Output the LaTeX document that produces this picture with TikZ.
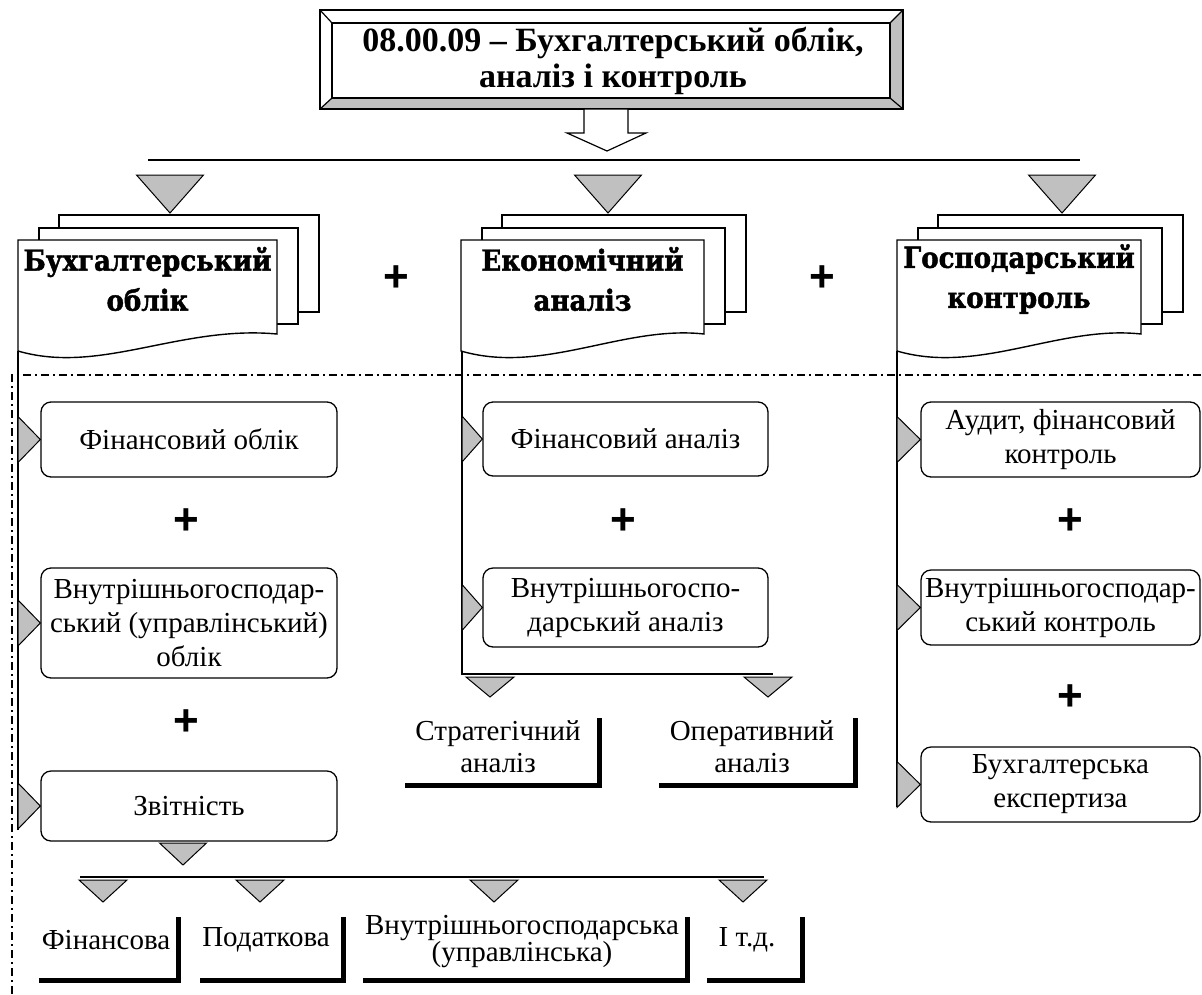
\documentclass[tikz,border=0pt]{standalone}
\usepackage{fontspec}
\setmainfont{Liberation Serif}
\newfontfamily\docfont{DejaVu Serif Condensed Bold}[FakeBold=1.5]
\newfontfamily\plusfont{Liberation Sans Bold}
\usetikzlibrary{calc}
\definecolor{trigray}{RGB}{192,192,192}
\newcommand{\mydocstack}[2]{%
  \draw[docline] (#1+41,215) rectangle (#1+#2+42,312);
  \draw[docline] (#1+21,228) rectangle (#1+#2+21,324);
  \draw[docline] (#1,240) -- (#1+#2,240) -- (#1+#2,334) .. controls (#1+162,325) and (#1+82,375) .. (#1,351) -- cycle;
}
\newcommand{\rtri}[2]{\draw[tri] (#1.west) -- ($(#1.west -| #2)+(0,-23)$) -- ($(#1.west -| #2)+(0,23)$) -- cycle;}
\newcommand{\dtri}[4]{\draw[tri] (#1-#3,#2) -- (#1+#3,#2) -- (#1,#2+#4) -- cycle;}
\begin{document}
\begin{tikzpicture}[x=1pt,y=-1pt,
  tri/.style={draw=black, fill=trigray, line width=1pt, line join=miter},
  docline/.style={draw=black, fill=white, line width=1.4pt},
  rbox/.style={draw, line width=1.3pt, rounded corners=10pt, fill=white, align=center, inner sep=0pt, font=\fontsize{29}{34}\selectfont},
  header/.style={align=center, inner sep=0pt, font=\bfseries\fontsize{34}{36}\selectfont},
  plussign/.style={font=\plusfont\fontsize{44}{44}\selectfont, inner sep=0pt},
  doclabel/.style={font=\docfont\fontsize{29}{40}\selectfont, align=center, inner sep=0pt},
  barlabel/.style={font=\fontsize{29}{32}\selectfont, align=center, inner sep=0pt},
  bar/.style={line width=5pt},
  dashdot/.style={line width=2pt, dash pattern=on 8pt off 4pt on 2pt off 4pt},
  conn/.style={line width=1.3pt}
]
\useasboundingbox (0,0) rectangle (1202,994);
\fill[white] (0,0) rectangle (1202,994);

% header bevel box
\fill[white] (320,10) rectangle (903,109);
\fill[trigray] (320,109) -- (903,109) -- (890,98) -- (332,98) -- cycle;
\fill[trigray] (903,10) -- (903,109) -- (890,98) -- (890,23) -- cycle;
\draw[line width=1.2pt] (332,23) rectangle (890,98);
\draw[line width=1.2pt] (320,10) -- (332,23) (903,10) -- (890,23) (320,109) -- (332,98) (903,109) -- (890,98);
\draw[line width=1.6pt] (320,10) rectangle (903,109);
\node[header] (head) at (613,61) {08.00.09 – Бухгалтерський облік,\\аналіз і контроль};

% hollow arrow
\draw[line width=1.2pt, fill=white, line join=miter] (584,109) -- (628,109) -- (628,133) -- (646,133) -- (607,151) -- (567,133) -- (584,133) -- cycle;
\draw[line width=2pt] (148,160) coordinate (hl) -- (1080,160) coordinate (hr);

% top triangles
\dtri{170}{175}{33.5}{38}
\dtri{608}{175}{33.5}{38}
\dtri{1062}{175}{33.5}{38}

% document stacks
\mydocstack{18}{259}
\mydocstack{461}{243}
\mydocstack{897}{244}
\node[doclabel] (bo) at (147.5,279) {Бухгалтерський\\облік};
\node[doclabel] (ea) at (582.5,279) {Економічний\\аналіз};
\node[doclabel] (gk) at (1019,279) {Господарський\\контроль};
\node[plussign] (p1) at (396,279) {+};
\node[plussign] (p2) at (822,279) {+};

\coordinate (colL) at (18,351);
\coordinate (colM) at (462,351);
\coordinate (colR) at (897,351);

% dash-dot frame
\draw[dashdot] (12,994) -- (12,375) -- (1202,375);

% left column
\draw[conn] (colL) -- (18,830);
\node[rbox, minimum width=296pt, minimum height=75pt] (lb1) at (189,439.5) {Фінансовий облік};
\node[rbox, minimum width=296pt, minimum height=110pt] (lb2) at (189,623) {Внутрішньогосподар-\\ський (управлінський)\\облік};
\node[rbox, minimum width=296pt, minimum height=70pt] (lb3) at (189,806) {Звітність};
\node[plussign] at (186,522) {+};
\node[plussign] at (186,723) {+};
\rtri{lb1}{colL}
\rtri{lb2}{colL}
\rtri{lb3}{colL}

% middle column
\draw[conn] (colM) -- (462,674) -- (773,674);
\node[rbox, minimum width=285pt, minimum height=74pt] (mb1) at (625.5,439) {Фінансовий аналіз};
\node[rbox, minimum width=285pt, minimum height=79pt] (mb2) at (625.5,607.5) {Внутрішньогоспо-\\дарський аналіз};
\node[plussign] at (623,522) {+};
\rtri{mb1}{colM}
\rtri{mb2}{colM}
\dtri{490}{677}{24}{20}
\dtri{768}{677}{24}{20}
\node[barlabel] (sa) at (498,747) {Стратегічний\\аналіз};
\node[barlabel] (oa) at (752,747) {Оперативний\\аналіз};
\draw[bar] (405,785) -- (599,785) -- (599,718);
\draw[bar] (659,785) -- (855,785) -- (855,718);

% right column
\draw[conn] (colR) -- (897,807);
\node[rbox, minimum width=279pt, minimum height=75pt] (rb1) at (1060.5,439.5) {Аудит, фінансовий\\контроль};
\node[rbox, minimum width=279pt, minimum height=75pt] (rb2) at (1060.5,607.5) {Внутрішньогосподар-\\ський контроль};
\node[rbox, minimum width=279pt, minimum height=75pt] (rb3) at (1060.5,784.5) {Бухгалтерська\\експертиза};
\node[plussign] at (1070,522) {+};
\node[plussign] at (1070,698) {+};
\rtri{rb1}{colR}
\rtri{rb2}{colR}
\rtri{rb3}{colR}

% reporting branch
\dtri{183}{843}{23.5}{22}
\draw[line width=2pt] (80,877) -- (764,877);
\dtri{103}{880}{24}{22}
\dtri{260}{880}{24}{22}
\dtri{494}{880}{24}{22}
\dtri{743}{880}{24}{22}
\node[barlabel] (f1) at (106,940) {Фінансова};
\node[barlabel] (f2) at (266,940) {Податкова};
\node[barlabel, font=\fontsize{29}{27}\selectfont] (f3) at (522,942) {Внутрішньогосподарська\\(управлінська)};
\node[barlabel] (f4) at (747,940) {І т.д.};
\draw[bar] (39,980) -- (178,980) -- (178,917);
\draw[bar] (200,980) -- (343,980) -- (343,917);
\draw[bar] (363,980) -- (687,980) -- (687,917);
\draw[bar] (707,980) -- (802,980) -- (802,917);
\end{tikzpicture}
\end{document}
